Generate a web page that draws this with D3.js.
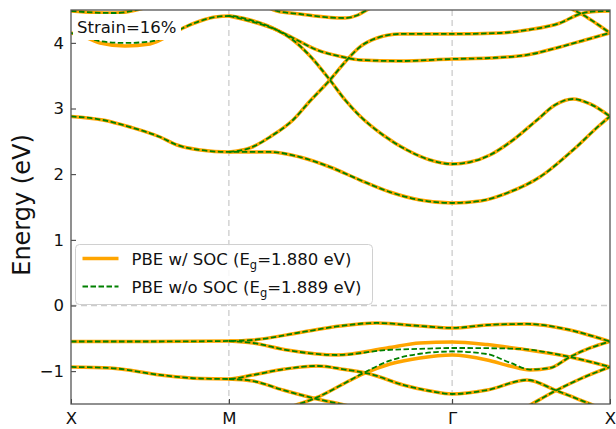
<!DOCTYPE html>
<html>
<head>
<meta charset="utf-8">
<script src="https://cdn.jsdelivr.net/npm/d3@7"></script>
<style>
  body { margin: 0; background: #fff; }
  svg { display: block; font-family: "DejaVu Sans", sans-serif; }
</style>
</head>
<body>
<div id="chart"></div>
<script>
// k-path X - M - Γ - X (square lattice, path length in 2π/a)
var kLabels = ["X", "M", "Γ", "X"];
var kTicks = [0, 0.5, 1.207, 1.707];
var energyTicks = [-1, 0, 1, 2, 3, 4];

var legendLabels = [
  { name: "PBE w/ SOC (E", sub: "g", rest: "=1.880 eV)" },
  { name: "PBE w/o SOC (E", sub: "g", rest: "=1.889 eV)" }
];
var strainLabel = "Strain=16%";

// conduction bands, [k, E] — same with and without SOC unless noted
var cb1 = [[0, 2.88], [0.101, 2.825], [0.187, 2.718], [0.282, 2.566], [0.336, 2.444], [0.409, 2.368], [0.5, 2.338],
  [0.630, 2.338], [0.725, 2.261], [0.820, 2.109], [0.915, 1.911], [1.010, 1.728], [1.105, 1.607], [1.207, 1.561],
  [1.295, 1.591], [1.381, 1.713], [1.485, 1.957], [1.590, 2.368], [1.675, 2.749], [1.707, 2.88]];
var cb2 = [[0.5, 2.338], [0.567, 2.399], [0.630, 2.566], [0.703, 2.825], [0.757, 3.114], [0.820, 3.434], [0.868, 3.708],
  [0.915, 3.937], [0.969, 4.074], [1.042, 4.135], [1.207, 4.135], [1.359, 4.150], [1.444, 4.195], [1.549, 4.302],
  [1.612, 4.439], [1.650, 4.475], [1.707, 4.485]];
var cb3Soc = [[0, 4.150], [0.044, 4.089], [0.092, 3.998], [0.171, 3.952], [0.250, 3.983], [0.314, 4.119], [0.355, 4.226],
  [0.409, 4.332], [0.456, 4.393], [0.5, 4.409], [0.567, 4.348], [0.652, 4.195], [0.703, 4.043], [0.757, 3.800],
  [0.820, 3.434], [0.868, 3.130], [0.915, 2.886], [0.988, 2.597], [1.064, 2.368], [1.137, 2.216], [1.207, 2.155],
  [1.264, 2.185], [1.327, 2.292], [1.400, 2.520], [1.476, 2.825], [1.533, 3.053], [1.590, 3.145], [1.644, 3.069],
  [1.707, 2.88]];
var cb3NoSoc = [[0, 4.150], [0.044, 4.095], [0.092, 4.025], [0.171, 3.998], [0.250, 4.020], [0.314, 4.119], [0.355, 4.226],
  [0.409, 4.332], [0.456, 4.393], [0.5, 4.409], [0.567, 4.348], [0.652, 4.195], [0.703, 4.043], [0.757, 3.800],
  [0.820, 3.434], [0.868, 3.130], [0.915, 2.886], [0.988, 2.597], [1.064, 2.368], [1.137, 2.216], [1.207, 2.155],
  [1.264, 2.185], [1.327, 2.292], [1.400, 2.520], [1.476, 2.825], [1.533, 3.053], [1.590, 3.145], [1.644, 3.069],
  [1.707, 2.88]];
var cb4 = [[0.5, 4.409], [0.567, 4.332], [0.652, 4.195], [0.703, 4.074], [0.779, 3.891], [0.861, 3.784], [0.915, 3.739],
  [1.042, 3.723], [1.207, 3.754], [1.327, 3.769], [1.444, 3.815], [1.549, 3.937], [1.628, 4.043], [1.707, 4.150]];
var cb5 = [[0.600, 4.60], [0.652, 4.485], [0.725, 4.439], [0.820, 4.386], [0.868, 4.378], [0.909, 4.424], [0.937, 4.50],
  [0.994, 4.65]];
var cb6 = [[1.533, 4.652], [1.580, 4.530], [1.622, 4.424], [1.666, 4.287], [1.707, 4.150]];
var cb7 = [[0, 4.485], [0.070, 4.462], [0.139, 4.454], [0.219, 4.515], [0.282, 4.62]];

// valence bands
var vb1 = [[0, -0.548], [0.25, -0.548], [0.5, -0.540], [0.576, -0.525], [0.735, -0.403], [0.852, -0.312], [0.969, -0.266],
  [1.105, -0.312], [1.207, -0.342], [1.318, -0.297], [1.444, -0.281], [1.580, -0.373], [1.660, -0.479], [1.707, -0.548]];
var vb2Soc = [[0.5, -0.540], [0.576, -0.571], [0.684, -0.678], [0.842, -0.754], [1.001, -0.647], [1.105, -0.571],
  [1.207, -0.556], [1.318, -0.595], [1.422, -0.660], [1.580, -0.784], [1.707, -0.936]];
var vb2NoSoc = [[0.5, -0.540], [0.576, -0.571], [0.684, -0.678], [0.842, -0.754], [1.001, -0.678], [1.105, -0.660],
  [1.207, -0.647], [1.318, -0.650], [1.422, -0.662], [1.580, -0.784], [1.707, -0.936]];
var vb3 = [[0, -0.936], [0.124, -0.952], [0.282, -1.058], [0.409, -1.112], [0.5, -1.119], [0.576, -1.058], [0.678, -0.967],
  [0.779, -0.921], [0.868, -0.975], [0.947, -1.043], [1.052, -1.210], [1.137, -1.302], [1.207, -1.348], [1.318, -1.287],
  [1.444, -1.134], [1.533, -1.287], [1.596, -1.408], [1.644, -1.500], [1.707, -1.62]];
var vb4 = [[0.5, -1.119], [0.576, -1.150], [0.671, -1.287], [0.779, -1.424], [0.852, -1.500], [0.94, -1.60]];
var vb5Soc = [[0.56, -1.80], [0.63, -1.66], [0.694, -1.546], [0.779, -1.400], [0.868, -1.180], [0.925, -1.043],
  [1.010, -0.891], [1.105, -0.799], [1.207, -0.754], [1.318, -0.830], [1.390, -0.921], [1.454, -0.982], [1.517, -0.952],
  [1.580, -0.784], [1.644, -0.647], [1.707, -0.548]];
var vb5NoSoc = [[0.56, -1.80], [0.63, -1.66], [0.694, -1.546], [0.779, -1.400], [0.868, -1.180], [0.925, -1.030],
  [1.010, -0.840], [1.105, -0.735], [1.207, -0.700], [1.318, -0.740], [1.390, -0.870], [1.454, -0.975], [1.517, -0.952],
  [1.580, -0.784], [1.644, -0.647], [1.707, -0.548]];
var vb6 = [[1.359, -1.77], [1.454, -1.515], [1.533, -1.302], [1.612, -1.119], [1.707, -0.936]];

var socBands = [cb1, cb2, cb3Soc, cb4, cb5, cb6, cb7, vb1, vb2Soc, vb3, vb4, vb5Soc, vb6];
var noSocBands = [cb1, cb2, cb3NoSoc, cb4, cb5, cb6, cb7, vb1, vb2NoSoc, vb3, vb4, vb5NoSoc, vb6];

// svg dimensions
var svgWidth = 616;
var svgHeight = 429;
var margin = { top: 10, right: 6, bottom: 25, left: 71 };
var chartWidth = svgWidth - margin.left - margin.right;
var chartHeight = svgHeight - margin.top - margin.bottom;

var svg = d3.select("#chart")
  .append("svg")
  .attr("width", svgWidth)
  .attr("height", svgHeight);

var chartGroup = svg.append("g")
  .attr("transform", `translate(${margin.left}, ${margin.top})`);

var xScale = d3.scaleLinear().domain([0, 1.707]).range([0, chartWidth]);
var yScale = d3.scaleLinear().domain([-1.5, 4.5]).range([chartHeight, 0]);

chartGroup.append("clipPath")
  .attr("id", "plot-clip")
  .append("rect")
  .attr("width", chartWidth)
  .attr("height", chartHeight);

// dashed guides at M, Γ and E = 0
chartGroup.selectAll(".kline")
  .data(kTicks.slice(1, 3))
  .enter()
  .append("line")
  .attr("x1", d => xScale(d))
  .attr("x2", d => xScale(d))
  .attr("y1", 0)
  .attr("y2", chartHeight)
  .attr("stroke", "#cccccc")
  .attr("stroke-width", 1.3)
  .attr("stroke-dasharray", "6,4");

chartGroup.append("line")
  .attr("x1", 0)
  .attr("x2", chartWidth)
  .attr("y1", yScale(0))
  .attr("y2", yScale(0))
  .attr("stroke", "#cccccc")
  .attr("stroke-width", 1.3)
  .attr("stroke-dasharray", "6,4");

var bandLine = d3.line()
  .x(d => xScale(d[0]))
  .y(d => yScale(d[1]))
  .curve(d3.curveMonotoneX);

var bandsGroup = chartGroup.append("g").attr("clip-path", "url(#plot-clip)");

bandsGroup.selectAll(".soc")
  .data(socBands)
  .enter()
  .append("path")
  .attr("d", bandLine)
  .attr("fill", "none")
  .attr("stroke", "orange")
  .attr("stroke-width", 3.5);

bandsGroup.selectAll(".nosoc")
  .data(noSocBands)
  .enter()
  .append("path")
  .attr("d", bandLine)
  .attr("fill", "none")
  .attr("stroke", "green")
  .attr("stroke-width", 1.8)
  .attr("stroke-dasharray", "5.5,2.5");

// axes
var leftAxis = d3.axisLeft(yScale).tickValues(energyTicks).tickFormat(d3.format("d"))
  .tickSize(-5).tickPadding(7);
var bottomAxis = d3.axisBottom(xScale).tickValues(kTicks).tickFormat((d, i) => kLabels[i])
  .tickSize(-5).tickPadding(8);

var yAxisG = chartGroup.append("g").call(leftAxis);
var xAxisG = chartGroup.append("g")
  .attr("transform", `translate(0, ${chartHeight})`)
  .call(bottomAxis);

[yAxisG, xAxisG].forEach(function(g) {
  g.select(".domain").remove();
  g.selectAll(".tick line").attr("stroke", "#333");
  g.selectAll(".tick text")
    .attr("font-size", "16.5px")
    .attr("font-family", "DejaVu Sans, sans-serif")
    .attr("fill", "#111");
});

chartGroup.append("rect")
  .attr("width", chartWidth)
  .attr("height", chartHeight)
  .attr("fill", "none")
  .attr("stroke", "#555")
  .attr("stroke-width", 1.3);

// axis label
chartGroup.append("text")
  .attr("transform", `translate(${30 - margin.left}, ${205 - margin.top}) rotate(-90)`)
  .attr("text-anchor", "middle")
  .attr("font-size", "24px")
  .attr("fill", "#111")
  .text("Energy (eV)");

// strain annotation with white box
chartGroup.append("rect")
  .attr("x", 2)
  .attr("y", 4)
  .attr("width", 108)
  .attr("height", 26)
  .attr("fill", "white");

chartGroup.append("text")
  .attr("x", 6)
  .attr("y", 23)
  .attr("font-size", "16.5px")
  .attr("fill", "#111")
  .text(strainLabel);

// legend
var legend = chartGroup.append("g")
  .attr("transform", `translate(${75.5 - margin.left}, ${244.5 - margin.top})`);

legend.append("rect")
  .attr("width", 297)
  .attr("height", 60)
  .attr("rx", 4)
  .attr("fill", "white")
  .attr("fill-opacity", 0.85)
  .attr("stroke", "#d0d0d0");

var legendStyles = [
  { stroke: "orange", width: 3.5, dash: null },
  { stroke: "green", width: 1.8, dash: "5.5,2.5" }
];

legendLabels.forEach(function(item, i) {
  var yy = 14 + i * 28;
  legend.append("line")
    .attr("x1", 7)
    .attr("x2", 43)
    .attr("y1", yy)
    .attr("y2", yy)
    .attr("stroke", legendStyles[i].stroke)
    .attr("stroke-width", legendStyles[i].width)
    .attr("stroke-dasharray", legendStyles[i].dash);

  var t = legend.append("text")
    .attr("x", 56)
    .attr("y", yy + 6)
    .attr("font-size", "16.5px")
    .attr("fill", "#111");
  t.append("tspan").text(item.name);
  t.append("tspan").attr("font-size", "11.5px").attr("dy", 4).text(item.sub);
  t.append("tspan").attr("dy", -4).text(item.rest);
});
</script>
</body>
</html>
